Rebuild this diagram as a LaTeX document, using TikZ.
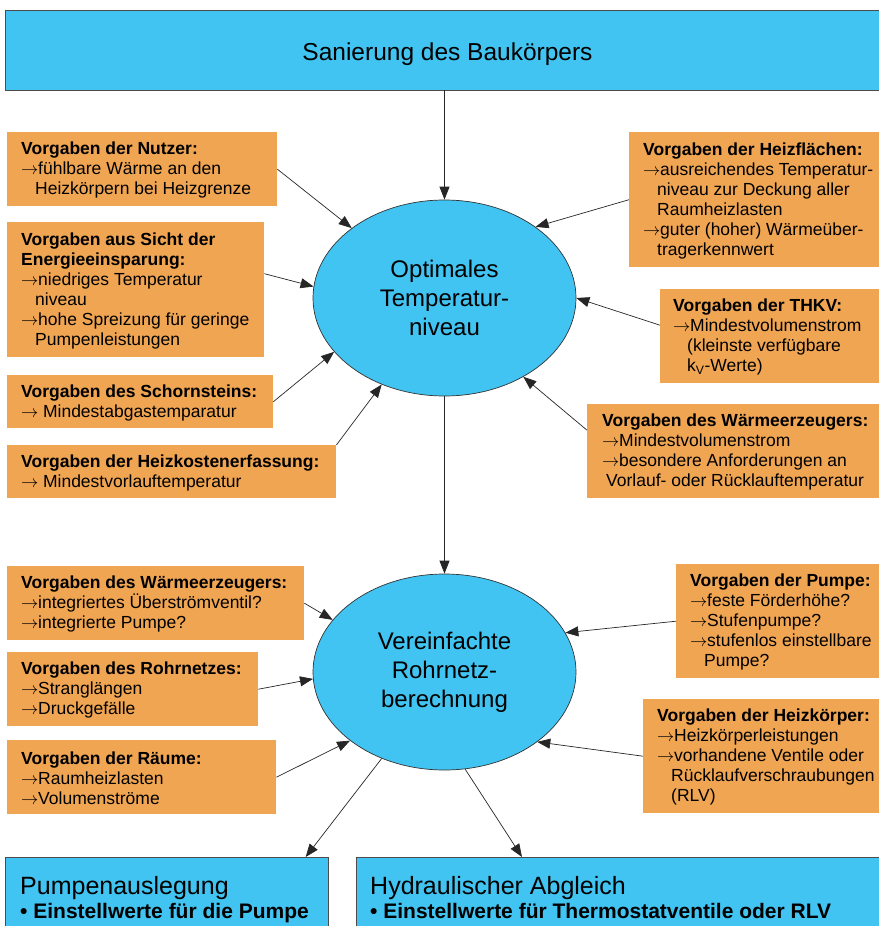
\documentclass[tikz,border=0pt]{standalone}
\usepackage{fontspec}
\setmainfont{Liberation Sans}
\usetikzlibrary{arrows.meta, shapes.geometric}

\definecolor{blau}{HTML}{41C4F1}
\definecolor{ocker}{HTML}{F0A553}
\newcommand{\arr}{\makebox[17pt][l]{$\rightarrow$}}
\newcommand{\weiter}{\hspace*{14pt}}

\begin{document}
\begin{tikzpicture}[x=1pt, y=-1pt,
    pfeil/.style={-{Triangle[length=13pt, width=10pt]}, draw=black!85, line width=0.7pt},
    ziel/.style={draw=black!70, line width=0.7pt, fill=blau, inner sep=0pt},
    kreis/.style={ellipse, draw=black!80, line width=0.7pt, fill=blau, minimum width=263pt,
        minimum height=196pt, inner sep=0pt, align=center, font=\fontsize{24}{29}\selectfont},
    vbox/.style={fill=ocker, anchor=north west, inner sep=0pt},
    vtext/.style={anchor=west, inner sep=0pt, align=left, font=\fontsize{17.5}{20}\selectfont}]

    \useasboundingbox (0,0) rectangle (878,926);

    \node[ziel, minimum width=885pt, minimum height=80pt, text height=22pt, text depth=2pt,
        font=\fontsize{24.5}{29}\selectfont] (bau) at (447.5,50) {Sanierung des Baukörpers};

    \node[kreis] (opt) at (444.5,298) {Optimales\\Temperatur-\\niveau};
    \node[kreis] (ver) at (444.5,672) {Vereinfachte\\Rohrnetz-\\berechnung};

    % Vorgaben links oben
    \node[vbox, minimum width=270pt, minimum height=74pt] (nutzer) at (7,132) {};
    \node[vtext] (nutzer-t) at ([xshift=14pt,yshift=-1pt]nutzer.west) {\textbf{Vorgaben der Nutzer:}\\ \arr fühlbare Wärme an den\\ \weiter Heizkörpern bei Heizgrenze};
    \node[vbox, minimum width=257pt, minimum height=135pt] (energie) at (7,222) {};
    \node[vtext] (energie-t) at ([xshift=14pt,yshift=-1pt]energie.west) {\textbf{Vorgaben aus Sicht der}\\ \textbf{Energieeinsparung:}\\ \arr niedriges Temperatur\\ \weiter niveau\\ \arr hohe Spreizung für geringe\\ \weiter Pumpenleistungen};
    \node[vbox, minimum width=266pt, minimum height=53pt] (schorn) at (7,375) {};
    \node[vtext] (schorn-t) at ([xshift=14pt,yshift=-1pt]schorn.west) {\textbf{Vorgaben des Schornsteins:}\\ \arr\ Mindestabgastemparatur};
    \node[vbox, minimum width=329pt, minimum height=53pt] (heizko) at (7,445) {};
    \node[vtext] (heizko-t) at ([xshift=14pt,yshift=-1pt]heizko.west) {\textbf{Vorgaben der Heizkostenerfassung:}\\ \arr\ Mindestvorlauftemperatur};

    % Vorgaben rechts oben
    \node[vbox, minimum width=271pt, minimum height=135pt] (flaechen) at (629,132) {};
    \node[vtext] (flaechen-t) at ([xshift=14pt,yshift=-1pt]flaechen.west) {\textbf{Vorgaben der Heizflächen:}\\ \arr ausreichendes Temperatur-\\ \weiter niveau zur Deckung aller\\ \weiter Raumheizlasten\\ \arr guter (hoher) Wärmeüber-\\ \weiter tragerkennwert};
    \node[vbox, minimum width=240pt, minimum height=94pt] (thkv) at (660,289) {};
    \node[vtext] (thkv-t) at ([xshift=13pt,yshift=-1pt]thkv.west) {\textbf{Vorgaben der THKV:}\\ \arr Mindestvolumenstrom\\ \weiter (kleinste verfügbare\\ \weiter k\textsubscript{V}-Werte)};
    \node[vbox, minimum width=313pt, minimum height=94pt] (erzeug) at (587,404) {};
    \node[vtext] (erzeug-t) at ([xshift=15pt,yshift=-1pt]erzeug.west) {\textbf{Vorgaben des Wärmeerzeugers:}\\ \arr Mindestvolumenstrom\\ \arr besondere Anforderungen an\\ \hspace*{4pt}Vorlauf- oder Rücklauftemperatur};

    % Vorgaben links unten
    \node[vbox, minimum width=297pt, minimum height=74pt] (erz2) at (7,566) {};
    \node[vtext] (erz2-t) at ([xshift=14pt,yshift=-1pt]erz2.west) {\textbf{Vorgaben des Wärmeerzeugers:}\\ \arr integriertes Überströmventil?\\ \arr integrierte Pumpe?};
    \node[vbox, minimum width=251pt, minimum height=74pt] (rohr) at (7,652) {};
    \node[vtext] (rohr-t) at ([xshift=14pt,yshift=-1pt]rohr.west) {\textbf{Vorgaben des Rohrnetzes:}\\ \arr Stranglängen\\ \arr Druckgefälle};
    \node[vbox, minimum width=269pt, minimum height=74pt] (raeume) at (7,740) {};
    \node[vtext] (raeume-t) at ([xshift=14pt,yshift=-1pt]raeume.west) {\textbf{Vorgaben der Räume:}\\ \arr Raumheizlasten\\ \arr Volumenströme};

    % Vorgaben rechts unten
    \node[vbox, minimum width=224pt, minimum height=114pt] (pumpe) at (676,564) {};
    \node[vtext] (pumpe-t) at ([xshift=14pt,yshift=-1pt]pumpe.west) {\textbf{Vorgaben der Pumpe:}\\ \arr feste Förderhöhe?\\ \arr Stufenpumpe?\\ \arr stufenlos einstellbare\\ \weiter Pumpe?};
    \node[vbox, minimum width=257pt, minimum height=114pt] (hk) at (643,699) {};
    \node[vtext] (hk-t) at ([xshift=14pt,yshift=-1pt]hk.west) {\textbf{Vorgaben der Heizkörper:}\\ \arr Heizkörperleistungen\\ \arr vorhandene Ventile oder\\ \weiter Rücklaufverschraubungen\\ \weiter (RLV)};

    % Ergebnisse
    \node[ziel, anchor=north west, minimum width=323pt, minimum height=100pt] (pa) at (5,857) {};
    \node[anchor=north west, inner sep=0pt, align=left, font=\fontsize{25}{24}\selectfont] (pa-t) at ([xshift=15pt,yshift=-19pt]pa.north west) {Pumpenauslegung\\ {\fontsize{21}{24}\selectfont\bfseries • Einstellwerte für die Pumpe}};
    \node[ziel, anchor=north west, minimum width=540pt, minimum height=100pt] (hyd) at (356,857) {};
    \node[anchor=north west, inner sep=0pt, align=left, font=\fontsize{25}{24}\selectfont] (hyd-t) at ([xshift=14pt,yshift=-19pt]hyd.north west) {Hydraulischer Abgleich\\ {\fontsize{21}{24}\selectfont\bfseries • Einstellwerte für Thermostatventile oder RLV}};

    % Pfeile
    \draw[pfeil] (bau.south -| opt.north) -- (opt.north);
    \draw[pfeil] (nutzer.east) -- (opt.143);
    \draw[pfeil] ([yshift=16pt]energie.east) -- (opt.175);
    \draw[pfeil] (schorn.east) -- (opt.206);
    \draw[pfeil] (heizko.north east) -- (opt.234);
    \draw[pfeil] (flaechen.west) -- (opt.38);
    \draw[pfeil] ([yshift=11pt]thkv.west) -- (opt.east);
    \draw[pfeil] ([yshift=21pt]erzeug.west) -- (opt.315);
    \draw[pfeil] (opt.south) -- (ver.north);
    \draw[pfeil] (erz2.east) -- (ver.155);
    \draw[pfeil] (rohr.east) -- (ver.183);
    \draw[pfeil] (raeume.east) -- (ver.216);
    \draw[pfeil] (pumpe.west) -- (ver.18);
    \draw[pfeil] (hk.west) -- (ver.323);
    \draw[pfeil] (ver.234) -- ([xshift=-23pt]pa.north east);
    \draw[pfeil] (ver.282) -- ([xshift=166pt]hyd.north west);
\end{tikzpicture}
\end{document}
